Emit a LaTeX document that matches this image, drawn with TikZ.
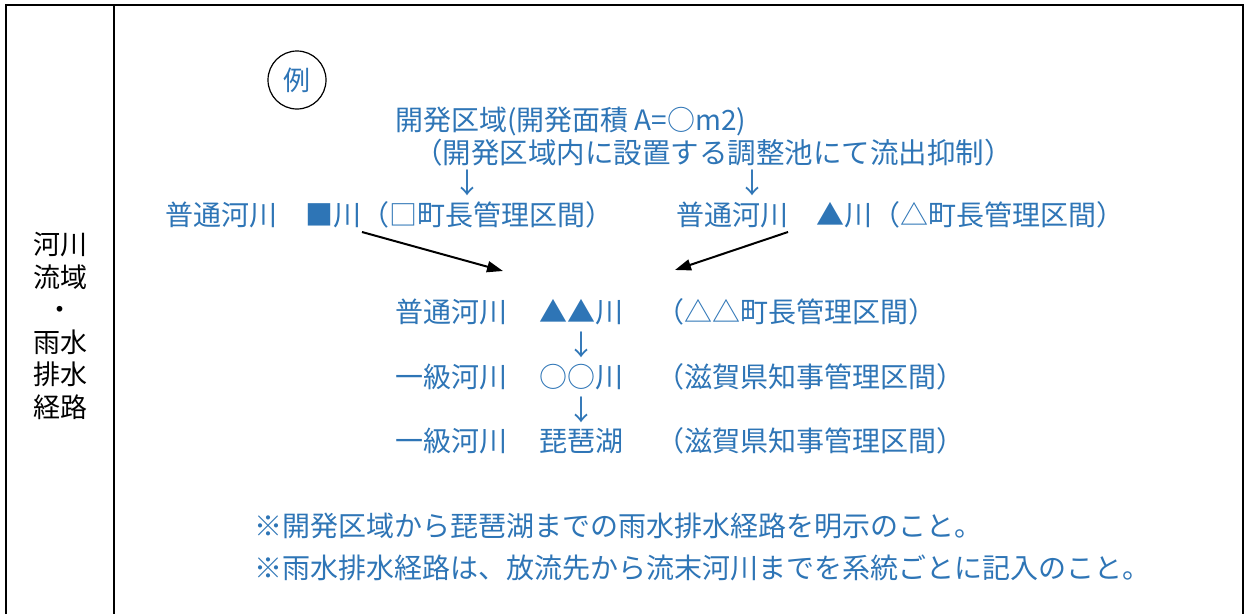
\documentclass[tikz,border=0pt]{standalone}
\usepackage{fontspec}
\setmainfont{Noto Sans CJK JP}
\usetikzlibrary{arrows.meta}
\definecolor{txtblue}{RGB}{46,117,182}
\begin{document}
\begin{tikzpicture}[x=1pt,y=-1pt,
  t/.style={inner sep=0pt, outer sep=0pt, anchor=west, text=txtblue,
    text height=24pt, text depth=4pt, font=\fontsize{28}{28}\selectfont},
  dn/.style={inner sep=0pt, outer sep=0pt, anchor=center, text=txtblue, font=\fontsize{28}{28}\selectfont},
  note/.style={inner sep=0pt, outer sep=0pt, anchor=west, text=txtblue,
    text height=24pt, text depth=4pt, font=\fontsize{28}{28}\selectfont},
  lab/.style={inner sep=0pt, text=black, align=center, font=\fontsize{27}{32.5}\selectfont},
  frame/.style={line width=2pt, black},
  flow/.style={line width=2pt, black, -{Triangle[length=16pt,width=11pt]}}]
\useasboundingbox (0,0) rectangle (1245,614);
% frame
\draw[frame] (6,614) -- (6,5) -- (1243,5) -- (1243,614);
\draw[frame] (114,5) -- (114,614);
% side label
\node[lab] (side) at (60,326) {河川\\流域\\・\\雨水\\排水\\経路};
% example mark
\node[draw, circle, line width=1.2pt, minimum size=58pt, inner sep=0pt, text=txtblue,
  font=\fontsize{27}{27}\selectfont] (rei) at (297,80) {例};
% development area
\node[t] (devA) at (395,120) {開発区域(開発面積 A=○m2)};
\node[t, font=\fontsize{28.5}{28.5}\selectfont] (devB) at (414,153) {（開発区域内に設置する調整池にて流出抑制）};
\node[dn] (dn1) at (467,183) {↓};
\node[dn] (dn2) at (752,183) {↓};
% upstream rivers
\node[t] (rivL) at (165,215) {普通河川　■川（□町長管理区間）};
\node[t] (rivR) at (676,215) {普通河川　▲川（△町長管理区間）};
\coordinate (aLs) at (362,232);
\coordinate (aLe) at (503,271);
\coordinate (aRs) at (788,232);
\coordinate (aRe) at (675,270);
\draw[flow] (aLs) -- (aLe);
\draw[flow] (aRs) -- (aRe);
% downstream chain
\node[t] (d1) at (395,312) {普通河川};
\node[t] (d2) at (539,312) {▲▲川};
\node[t] (d3) at (656,312) {（△△町長管理区間）};
\node[dn] (dn3) at (581,345) {↓};
\node[t] (e1) at (395,377) {一級河川};
\node[t] (e2) at (539,377) {○○川};
\node[t] (e3) at (656,377) {（滋賀県知事管理区間）};
\node[dn] (dn4) at (581,410) {↓};
\node[t] (f1) at (395,441) {一級河川};
\node[t] (f2) at (539,441) {琵琶湖};
\node[t] (f3) at (656,441) {（滋賀県知事管理区間）};
% notes
\node[note] (n1) at (254,526) {※開発区域から琵琶湖までの雨水排水経路を明示のこと。};
\node[note] (n2) at (254,568) {※雨水排水経路は、放流先から流末河川までを系統ごとに記入のこと。};
\end{tikzpicture}
\end{document}
